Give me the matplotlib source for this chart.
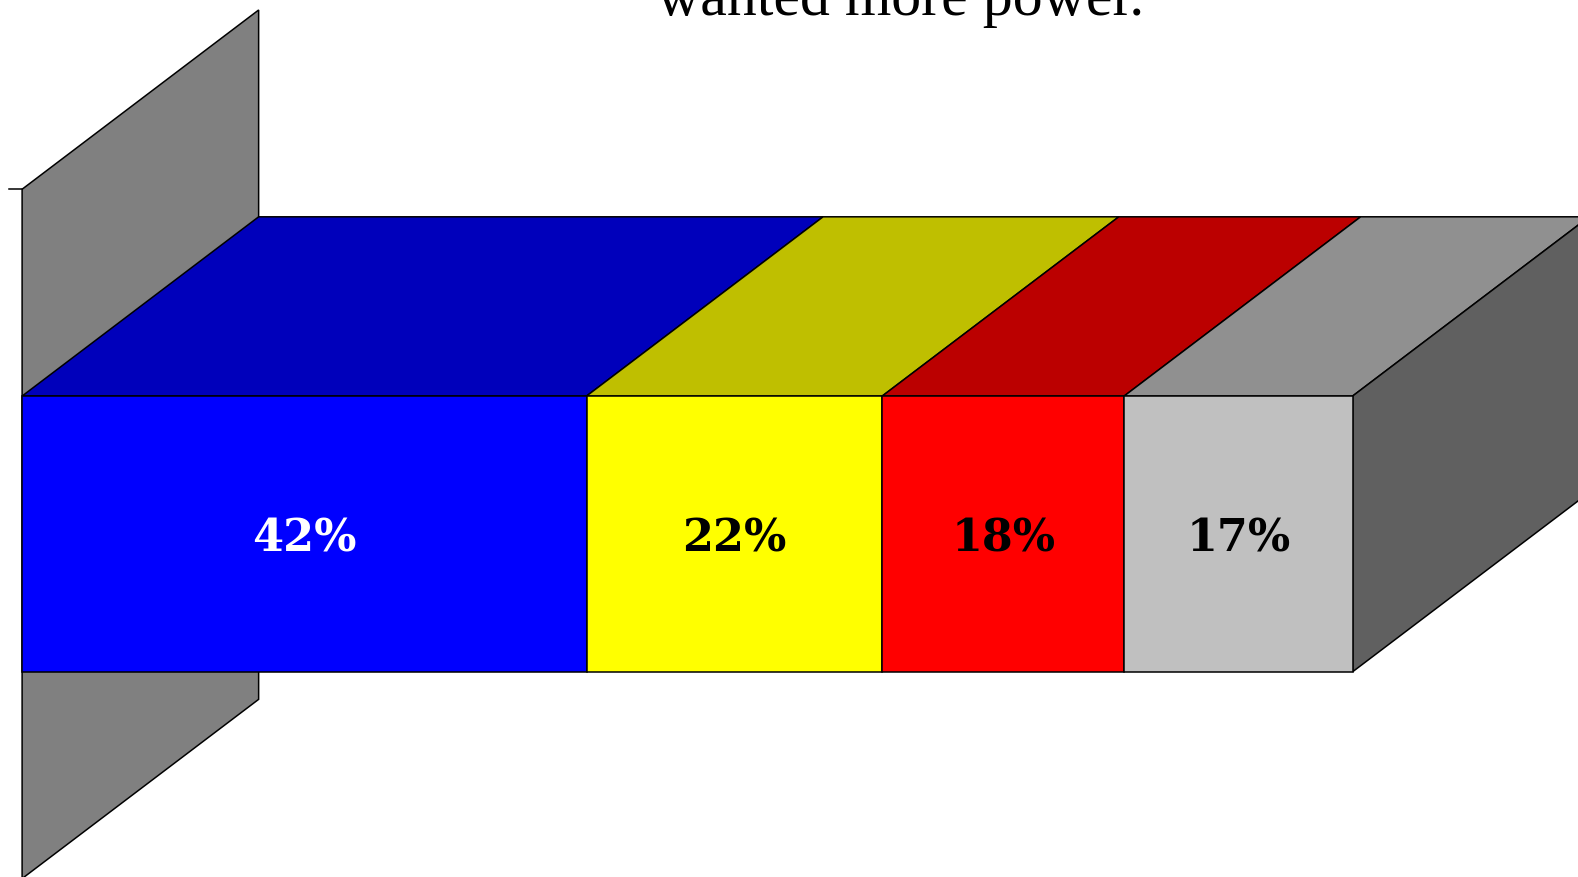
import matplotlib
matplotlib.use("Agg")
import matplotlib.pyplot as plt
from matplotlib.patches import Polygon

# data
labels = ["42%", "22%", "18%", "17%"]
values = [42, 22, 18, 17]
front_colors = ["#0000FF", "#FFFF00", "#FF0000", "#C0C0C0"]
top_colors = ["#0000BB", "#BFBF00", "#BB0000", "#909090"]
text_colors = ["white", "black", "black", "black"]
title = "wanted more power."

# 3d look
depth_x = 17.6
depth_y = 0.26
bar_half = 0.2
side_color = "#606060"
wall_color = "#808080"

fig = plt.figure(figsize=(15.78, 8.77), dpi=100)
ax = fig.add_axes([0, 0, 1, 1])
ax.set_xlim(-1.645, 115.77)
ax.set_ylim(-0.4977, 0.7745)
ax.axis("off")

ec = dict(edgecolor="black", linewidth=1.1)

# back wall (category axis wall)
wall = [(0, -0.5), (0, 0.5), (depth_x, 0.5 + depth_y), (depth_x, -0.5 + depth_y)]
ax.add_patch(Polygon(wall, closed=True, facecolor=wall_color, zorder=1, **ec))
ax.plot([-0.95, 0], [0.5, 0.5], color="black", lw=1.1, zorder=1)

# stacked bar
left = 0
top = bar_half
bot = -bar_half
for v, lab, fc, tc, txc in zip(values, labels, front_colors, top_colors, text_colors):
    right = left + v
    ax.add_patch(Polygon([(left, top), (right, top), (right + depth_x, top + depth_y),
                          (left + depth_x, top + depth_y)], closed=True,
                         facecolor=tc, zorder=2, **ec))
    ax.add_patch(Polygon([(left, bot), (right, bot), (right, top), (left, top)],
                         closed=True, facecolor=fc, zorder=3, **ec))
    ax.text(left + v / 2, -0.008, lab, ha="center", va="center", color=txc,
            fontsize=32, fontweight="bold", family="DejaVu Serif", zorder=4)
    left = right

ax.add_patch(Polygon([(left, bot), (left, top), (left + depth_x, top + depth_y),
                      (left + depth_x, bot + depth_y)], closed=True,
                     facecolor=side_color, zorder=2, **ec))

fig.text(900.7 / 1578, 1 - 15.1 / 877, title, ha="center", va="baseline",
         fontsize=43, family="Liberation Serif")

fig.savefig("out.png", dpi=100)
